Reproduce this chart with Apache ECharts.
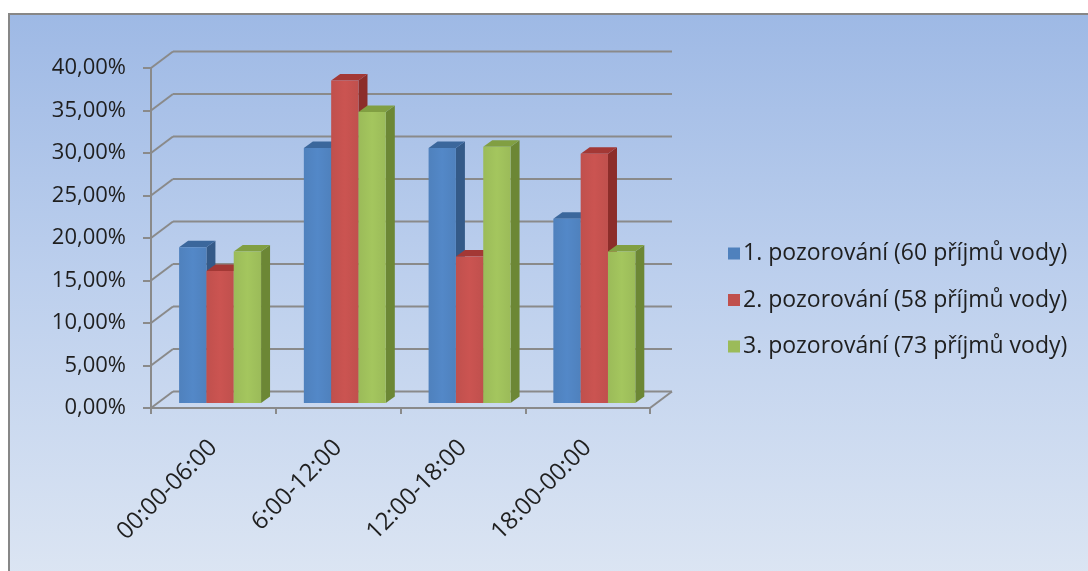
<!DOCTYPE html>
<html>
<head>
<meta charset="utf-8">
<script src="https://cdn.jsdelivr.net/npm/echarts@6/dist/echarts.min.js"></script>
<style>
  html, body { margin: 0; padding: 0; background: #ffffff; }
  #wrap { position: relative; width: 1088px; height: 571px; overflow: hidden; }
  #panel {
    position: absolute; left: 8px; top: 13px; width: 1100px; height: 580px;
    border: 2px solid #878787; box-sizing: border-box;
    background: linear-gradient(to bottom, #9eb9e5 0%, #bccfed 45%, #dde6f3 100%);
  }
  #chart { position: absolute; left: 0; top: 0; width: 1088px; height: 571px; }
</style>
</head>
<body>
<div id="wrap">
  <div id="panel"></div>
  <div id="chart"></div>
</div>
<script>
// Share of water intakes per time of day, in percent
const categories = ['00:00-06:00', '6:00-12:00', '12:00-18:00', '18:00-00:00'];
const seriesNames = [
  '1. pozorování (60 příjmů vody)',
  '2. pozorování (58 příjmů vody)',
  '3. pozorování (73 příjmů vody)'
];
const obs1 = [18.33, 30.00, 30.00, 21.67];
const obs2 = [15.52, 37.93, 17.24, 29.31];
const obs3 = [17.81, 34.25, 30.14, 17.81];
const yTicks = [0, 5, 10, 15, 20, 25, 30, 35, 40];

// Face colours: front, top, side
const palette = [
  { front: '#4f81bd', top: '#3b679c', side: '#345a88' },
  { front: '#c0504d', top: '#a33835', side: '#8c2d2a' },
  { front: '#9bbb59', top: '#819f42', side: '#6c8735' }
];

// Perspective offsets of the 3-D floor/walls
const DEPTH_X = 22, DEPTH_Y = -16.5;     // full depth of the plot box
const BAR_SHIFT_X = 6.7, BAR_SHIFT_Y = -5; // bar front plane
const BAR_DX = 9, BAR_DY = -6.5;          // bar thickness
const GRID_COLOR = '#8a8a8a';

const chart = echarts.init(document.getElementById('chart'), null, { renderer: 'canvas' });

function wallRenderer(params, api) {
  const v = api.value(1);
  const cs = params.coordSys;
  const y = api.coord([0, v])[1];
  const x0 = cs.x, x1 = cs.x + cs.width;
  const style = { stroke: GRID_COLOR, lineWidth: 2, fill: null };
  const children = [
    { type: 'line', shape: { x1: x0, y1: y, x2: x0 + DEPTH_X, y2: y + DEPTH_Y }, style },
    { type: 'line', shape: { x1: x0 + DEPTH_X, y1: y + DEPTH_Y, x2: x1 + DEPTH_X, y2: y + DEPTH_Y }, style }
  ];
  if (v === 0) {
    children.push({ type: 'line', shape: { x1: x1, y1: y, x2: x1 + DEPTH_X, y2: y + DEPTH_Y }, style });
  }
  return { type: 'group', children };
}

function barRenderer(seriesIndex) {
  const c = palette[seriesIndex];
  return function (params, api) {
    const idx = api.value(0);
    const val = api.value(1);
    const band = api.size([1, 0])[0];
    const bw = band * 0.219;
    const top = api.coord([idx, val]);
    const base = api.coord([idx, 0]);
    const xl = top[0] - 1.5 * bw + seriesIndex * bw + BAR_SHIFT_X;
    const xr = xl + bw;
    const yt = top[1] + BAR_SHIFT_Y;
    const yb = base[1] + BAR_SHIFT_Y;
    return {
      type: 'group',
      children: [
        { type: 'polygon', shape: { points: [[xr, yt], [xr + BAR_DX, yt + BAR_DY], [xr + BAR_DX, yb + BAR_DY], [xr, yb]] },
          style: { fill: c.side } },
        { type: 'polygon', shape: { points: [[xl, yt], [xr, yt], [xr + BAR_DX, yt + BAR_DY], [xl + BAR_DX, yt + BAR_DY]] },
          style: { fill: c.top } },
        { type: 'rect', shape: { x: xl, y: yt, width: bw, height: yb - yt },
          style: { fill: new echarts.graphic.LinearGradient(0, 0, 1, 0, [
            { offset: 0, color: c.front }, { offset: 0.5, color: echarts.color.lift(c.front, -0.06) }, { offset: 1, color: c.front }
          ]) } }
      ]
    };
  };
}

const seriesData = [obs1, obs2, obs3];
const fontFamily = '"Open Sans", "DejaVu Sans", sans-serif';

const option = {
  backgroundColor: 'transparent',
  animation: false,
  textStyle: { fontFamily },
  grid: { left: 151, right: 438, top: 68, bottom: 163, containLabel: false, outerBoundsMode: 'none' },
  legend: {
    orient: 'vertical',
    left: 728,
    top: 242,
    padding: 0,
    itemWidth: 12,
    itemHeight: 12,
    itemGap: 23.5,
    icon: 'rect',
    textStyle: { fontSize: 23, color: '#1f1f1f', fontFamily, padding: [0, 0, 0, -2] },
    data: seriesNames.map((n, i) => ({ name: n, itemStyle: { color: palette[i].front } }))
  },
  xAxis: {
    type: 'category',
    data: categories,
    boundaryGap: true,
    axisLine: { show: true, lineStyle: { color: GRID_COLOR, width: 2 } },
    axisTick: { show: true, length: 6, lineStyle: { color: GRID_COLOR, width: 2 } },
    axisLabel: { rotate: 45, margin: 36, fontSize: 24, color: '#1f1f1f', fontFamily },
    splitLine: { show: false }
  },
  yAxis: {
    type: 'value',
    min: 0,
    max: 40,
    interval: 5,
    axisLine: { show: true, lineStyle: { color: GRID_COLOR, width: 2 } },
    axisTick: { show: true, length: 8, lineStyle: { color: GRID_COLOR, width: 2 } },
    axisLabel: {
      margin: 25, fontSize: 22, color: '#1f1f1f', fontFamily,
      formatter: v => v.toFixed(2).replace('.', ',') + '%'
    },
    splitLine: { show: false }
  },
  series: [
    {
      type: 'custom',
      name: 'walls',
      z: 1,
      silent: true,
      renderItem: wallRenderer,
      data: yTicks.map(v => [0, v])
    }
  ].concat(seriesData.map((arr, s) => ({
    type: 'custom',
    name: seriesNames[s],
    z: 3,
    itemStyle: { color: palette[s].front },
    renderItem: barRenderer(s),
    data: arr.map((v, i) => [i, v])
  })))
};

chart.setOption(option);
</script>
</body>
</html>
